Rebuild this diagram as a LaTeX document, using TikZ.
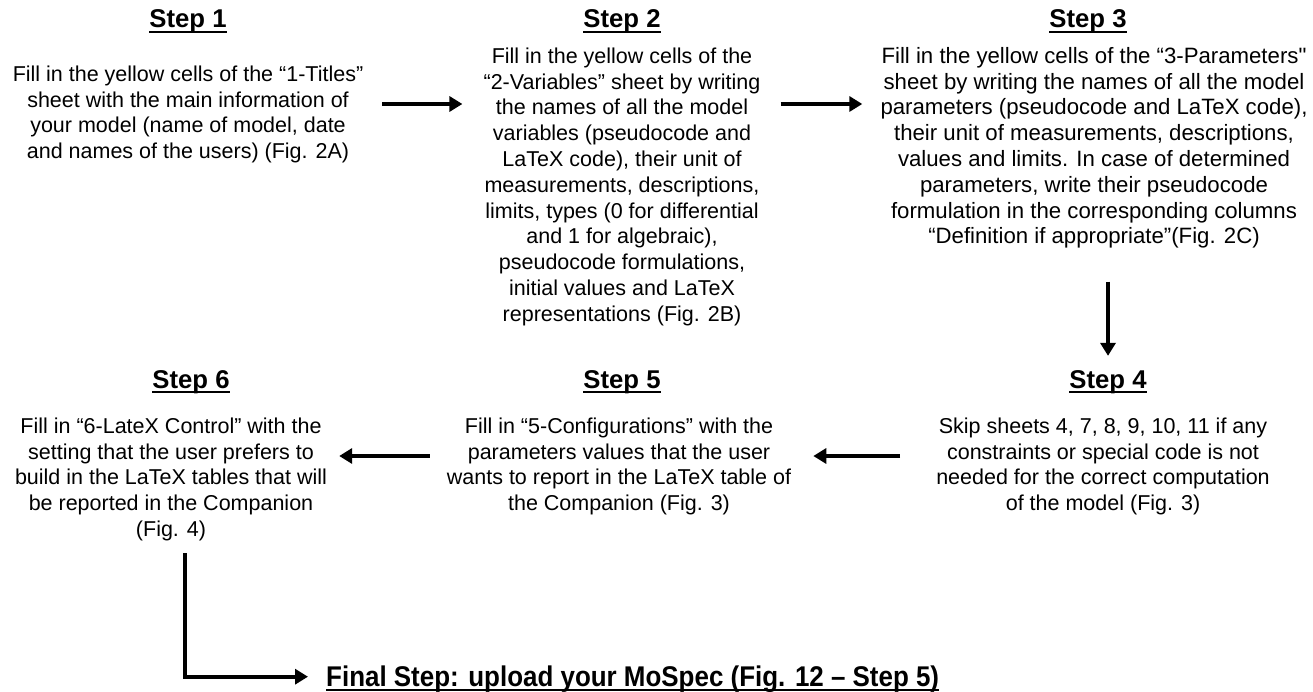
\documentclass[tikz,border=0pt]{standalone}
\usepackage{fontspec}
\setmainfont{Liberation Sans}
\newfontfamily\finalfont[FakeStretch=0.91]{Liberation Sans}
\usetikzlibrary{arrows.meta, positioning}
\definecolor{stpink}{HTML}{000000}
\tikzset{
  stephead/.style={font=\fontsize{25.7}{30}\selectfont\bfseries, inner sep=0pt, anchor=base, text=stpink},
  steptext/.style={font=\fontsize{21.5}{25.8}\selectfont, align=center, inner sep=0pt, text=stpink},
  finaltext/.style={font=\finalfont\bfseries\fontsize{28.5}{32}\selectfont, inner sep=0pt, anchor=base west, text=stpink},
  uline/.style={line width=1.8pt, stpink},
  arr/.style={-{Triangle[length=13pt, width=15pt]}, line width=4pt, stpink},
}

\begin{document}
\begin{tikzpicture}[x=1pt, y=-1pt]
    \useasboundingbox (0,0) rectangle (1313,692);
    \fill[white] (0,0) rectangle (1313,692);
    % Step 1
    \node[stephead] (h1) at (188,28) {Step 1};
    \node[steptext, below=32pt of h1] (t1) {Fill in the yellow cells of the “1-Titles”\\sheet with the main information of\\your model (name of model, date\\and names of the users) (Fig. 2A)};
    % Step 2
    \node[stephead] (h2) at (622,28) {Step 2};
    \node[steptext, below=14pt of h2] (t2) {Fill in the yellow cells of the\\“2-Variables” sheet by writing\\the names of all the model\\variables (pseudocode and\\LaTeX code), their unit of\\measurements, descriptions,\\limits, types (0 for differential\\and 1 for algebraic),\\pseudocode formulations,\\initial values and LaTeX\\representations (Fig. 2B)};
    % Step 3
    \node[stephead] (h3) at (1088,28) {Step 3};
    \node[steptext, font=\fontsize{22.2}{25.8}\selectfont, below=13.4pt of h3, xshift=6pt] (t3) {Fill in the yellow cells of the “3-Parameters\textquotedbl\\sheet by writing the names of all the model\\parameters (pseudocode and LaTeX code),\\their unit of measurements, descriptions,\\values and limits. In case of determined\\parameters, write their pseudocode\\formulation in the corresponding columns\\“Definition if appropriate”(Fig. 2C)};
    % Step 4
    \node[stephead] (h4) at (1108,388) {Step 4};
    \node[steptext, below=24pt of h4, xshift=-5pt] (t4) {Skip sheets 4, 7, 8, 9, 10, 11 if any\\constraints or special code is not\\needed for the correct computation\\of the model (Fig. 3)};
    % Step 5
    \node[stephead] (h5) at (622,388) {Step 5};
    \node[steptext, below=24pt of h5, xshift=-3pt] (t5) {Fill in “5-Configurations” with the\\parameters values that the user\\wants to report in the LaTeX table of\\the Companion (Fig. 3)};
    % Step 6
    \node[stephead] (h6) at (191,388) {Step 6};
    \node[steptext, below=24pt of h6, xshift=-20pt] (t6) {Fill in “6-LateX Control” with the\\setting that the user prefers to\\build in the LaTeX tables that will\\be reported in the Companion\\(Fig. 4)};
    % Final step
    \node[finaltext] (fin) at (326,686) {Final Step: upload your MoSpec (Fig. 12 – Step 5)};

    % underlines
    \foreach \n in {h1,h2,h3,h4,h5,h6,fin}
      \draw[uline] ([yshift=-4pt]\n.base west) -- ([yshift=-4pt]\n.base east);

    \coordinate (row1) at (0,104);
    \coordinate (row2) at (0,456);
    \coordinate (turn) at (185,553);
    \draw[arr] ([xshift=19pt]t1.east |- row1) -- ([xshift=-21pt]t2.west |- row1);
    \draw[arr] ([xshift=20pt]t2.east |- row1) -- ([xshift=-18pt]t3.west |- row1);
    \draw[arr] ([yshift=-33pt]t3.south -| h4.north) -- ([yshift=14pt]h4.north);
    \draw[arr] ([xshift=-36pt]t4.west |- row2) -- ([xshift=22pt]t5.east |- row2);
    \draw[arr] ([xshift=-17pt]t5.west |- row2) -- ([xshift=12pt]t6.east |- row2);
    \draw[arr] (turn) |- ([xshift=-18pt, yshift=2pt]fin.west);
\end{tikzpicture}
\end{document}
